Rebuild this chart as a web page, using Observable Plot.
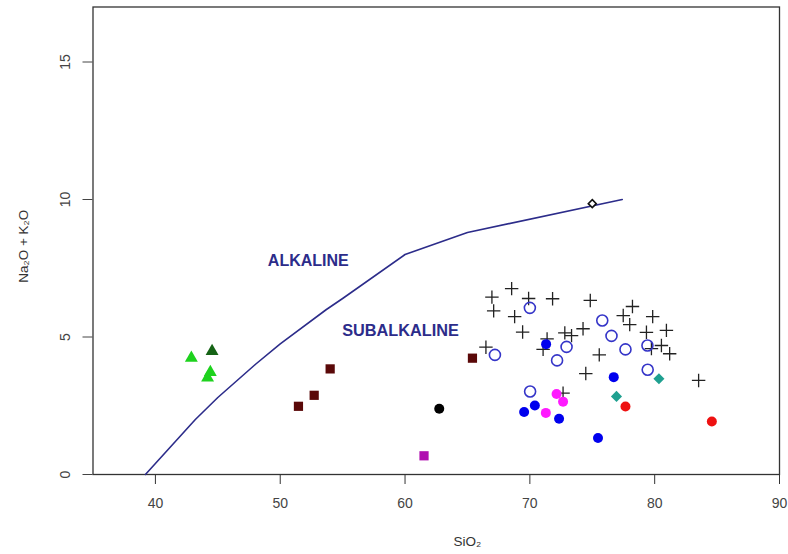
<!DOCTYPE html>
<html>
<head>
<meta charset="utf-8">
<script src="https://cdn.jsdelivr.net/npm/d3@7"></script>
<script src="https://cdn.jsdelivr.net/npm/@observablehq/plot@0.6"></script>
<style>
  html, body { margin: 0; padding: 0; background: #fff; }
  #chart { width: 788px; height: 554px; }
  svg { font-family: "Liberation Sans", Arial, sans-serif; }
</style>
</head>
<body>
<div id="chart"></div>
<script>
// Irvine & Baragar alkaline / subalkaline boundary
const boundaryX = [39.2, 40, 43.2, 45, 48, 50, 53.7, 55, 60, 65, 77.4];
const boundaryY = [0, 0.4, 2, 2.8, 4, 4.75, 6, 6.4, 8, 8.8, 10];

const xTicks = [40, 50, 60, 70, 80, 90];
const yTicks = [0, 5, 10, 15];

// Sample groups (SiO2, Na2O+K2O)
const crossX = [68.54, 66.96, 69.9, 71.82, 74.84, 67.1, 68.78, 69.42, 71.38, 71.06, 72.8, 73.34, 74.26, 66.48, 75.56, 74.48, 78.22, 77.48, 78.0, 79.84, 79.34, 80.94, 79.74, 80.54, 81.2, 83.52, 72.66];
const crossY = [6.76, 6.45, 6.4, 6.39, 6.33, 5.95, 5.74, 5.18, 4.93, 4.55, 5.15, 5.05, 5.30, 4.63, 4.35, 3.67, 6.11, 5.78, 5.45, 5.74, 5.17, 5.24, 4.58, 4.69, 4.39, 3.42, 2.96];

const openCircleX = [70.0, 67.2, 72.94, 72.18, 75.8, 76.54, 77.66, 79.42, 79.44, 70.02];
const openCircleY = [6.06, 4.35, 4.64, 4.15, 5.6, 5.04, 4.55, 4.69, 3.81, 3.02];

const blueX = [71.3, 76.72, 70.4, 69.54, 72.34, 75.46];
const blueY = [4.74, 3.54, 2.51, 2.27, 2.03, 1.33];

const magentaX = [72.14, 72.66, 71.28];
const magentaY = [2.93, 2.65, 2.24];

const tealX = [80.34, 76.94];
const tealY = [3.48, 2.84];

const redX = [77.66, 84.58];
const redY = [2.47, 1.93];

const maroonX = [51.46, 52.72, 54.0, 65.4];
const maroonY = [2.48, 2.88, 3.84, 4.23];

const purpleX = [61.52];
const purpleY = [0.68];

const blackX = [62.74];
const blackY = [2.39];

const greenX = [42.88, 44.4, 44.18];
const greenY = [4.24, 3.72, 3.52];

const darkGreenX = [44.54];
const darkGreenY = [4.48];

const openDiamondX = [75];
const openDiamondY = [9.85];

const zip = (xs, ys) => xs.map((x, i) => ({x, y: ys[i]}));
const boundary = zip(boundaryX, boundaryY);

const navy = "#2c2c8a";

const chart = Plot.plot({
  width: 788,
  height: 554,
  marginLeft: 92.5,
  marginRight: 9,
  marginTop: 6.5,
  marginBottom: 80,
  style: {fontFamily: "Liberation Sans, Arial, sans-serif", fontSize: "14px", color: "#333", background: "#fff"},
  x: {domain: [35, 90]},
  y: {domain: [0, 17]},
  marks: [
    Plot.frame({stroke: "#333", strokeWidth: 1.3}),
    Plot.axisX({ticks: xTicks, tickSize: 10, tickPadding: 14, label: null, fontSize: 14, stroke: "#333", color: "#444"}),
    Plot.axisY({ticks: yTicks, tickSize: 10, tickPadding: 13, tickRotate: -90, label: null, fontSize: 14, color: "#444"}),
    Plot.text(["SiO₂"], {x: 65, y: 0, frameAnchor: "middle", dy: 67, fontSize: 13.5, fill: "#333", text: d => d}),
    Plot.text(["Na₂O + K₂O"], {x: 35, y: 8.3, dx: -69, rotate: -90, fontSize: 13.5, fill: "#333", text: d => d}),
    Plot.line(boundary, {x: "x", y: "y", stroke: navy, strokeWidth: 1.6}),
    Plot.text(["ALKALINE"], {x: 52.25, y: 7.78, text: d => d, fill: navy, fontWeight: "bold", fontSize: 16}),
    Plot.text(["SUBALKALINE"], {x: 59.64, y: 5.24, text: d => d, fill: navy, fontWeight: "bold", fontSize: 16.3}),
    Plot.dot(zip(crossX, crossY), {x: "x", y: "y", symbol: "plus", r: 4.4, stroke: "#222", strokeWidth: 1.3}),
    Plot.dot(zip(openCircleX, openCircleY), {x: "x", y: "y", r: 5.5, stroke: "#3535c8", strokeWidth: 1.6, fill: "none"}),
    Plot.dot(zip(blueX, blueY), {x: "x", y: "y", r: 5, fill: "#0000ee"}),
    Plot.dot(zip(magentaX, magentaY), {x: "x", y: "y", r: 5, fill: "#ff1aff"}),
    Plot.dot(zip(tealX, tealY), {x: "x", y: "y", symbol: "diamond2", r: 5, fill: "#1fa090"}),
    Plot.dot(zip(redX, redY), {x: "x", y: "y", r: 5, fill: "#ee1111"}),
    Plot.dot(zip(maroonX, maroonY), {x: "x", y: "y", symbol: "square", r: 5.2, fill: "#5a0808"}),
    Plot.dot(zip(purpleX, purpleY), {x: "x", y: "y", symbol: "square", r: 5.2, fill: "#b010b0"}),
    Plot.dot(zip(blackX, blackY), {x: "x", y: "y", r: 5, fill: "#000"}),
    Plot.dot(zip(greenX, greenY), {x: "x", y: "y", symbol: "triangle", r: 4.8, fill: "#1ed21e"}),
    Plot.dot(zip(darkGreenX, darkGreenY), {x: "x", y: "y", symbol: "triangle", r: 4.8, fill: "#156315"}),
    Plot.dot(zip(openDiamondX, openDiamondY), {x: "x", y: "y", symbol: "diamond2", r: 3.6, fill: "#fff", stroke: "#111", strokeWidth: 1.6})
  ]
});
document.getElementById("chart").appendChild(chart);
</script>
</body>
</html>
